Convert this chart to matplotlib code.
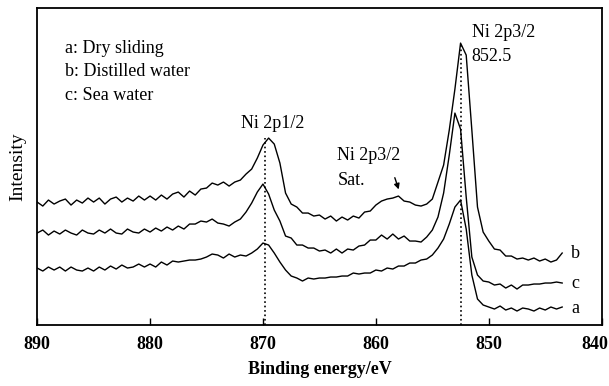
import numpy as np
import matplotlib
matplotlib.use('Agg')
import matplotlib.pyplot as plt
from matplotlib.transforms import ScaledTranslation

plt.rcParams['font.family'] = ['Liberation Serif', 'DejaVu Serif']

# binding energy grid, 890 -> 843.5 eV in 0.5 eV steps
energy = np.arange(890.0, 843.4, -0.5)

# intensities (arbitrary units)
dist_water = [
    123, 119, 125, 121, 124, 126, 120, 125, 122, 127,
    123, 127, 121, 126, 128, 123, 127, 124, 129, 125,
    129, 125, 130, 126, 131, 133, 128, 134, 130, 136,
    137, 142, 140, 143, 139, 143, 145, 151, 156, 167,
    180, 187, 181, 162, 132, 121, 118, 112, 112, 109,
    110, 106, 109, 104, 108, 105, 109, 107, 113, 114,
    120, 124, 126, 127, 129, 124, 123, 120, 119, 121,
    126, 143, 160, 195, 236, 282, 270, 195, 118, 93,
    84, 76, 75, 69, 69, 66, 67, 65, 67, 64,
    66, 63, 65, 72]
sea_water = [
    92, 95, 90, 94, 91, 95, 92, 90, 95, 92,
    91, 95, 92, 96, 92, 91, 96, 93, 92, 96,
    93, 97, 94, 98, 95, 99, 96, 101, 101, 104,
    103, 106, 102, 101, 99, 103, 106, 113, 122, 133,
    141, 131, 115, 104, 89, 87, 80, 80, 77, 77,
    74, 75, 72, 76, 72, 76, 75, 79, 80, 85,
    85, 90, 86, 91, 86, 89, 84, 84, 83, 88,
    95, 108, 132, 170, 212, 196, 128, 68, 50, 44,
    43, 40, 41, 37, 40, 36, 40, 40, 41, 41,
    42, 42, 43, 42]
dry_sliding = [
    57, 54, 58, 55, 58, 54, 58, 55, 54, 57,
    54, 58, 55, 59, 56, 60, 57, 58, 61, 58,
    61, 58, 63, 60, 64, 63, 64, 65, 65, 66,
    68, 71, 70, 67, 71, 68, 70, 69, 72, 76,
    82, 80, 72, 63, 55, 49, 47, 44, 47, 46,
    47, 47, 48, 48, 49, 49, 52, 51, 52, 52,
    55, 54, 57, 56, 59, 59, 62, 62, 65, 66,
    70, 77, 86, 101, 118, 125, 96, 50, 26, 20,
    18, 16, 19, 15, 17, 14, 17, 16, 14, 17,
    15, 18, 16, 18]

peak_pos = [869.8, 852.5]
peak_top = [187, 282]

fig = plt.figure(figsize=(6.09, 3.86), dpi=100)
ax = fig.add_axes([0.061, 0.158, 0.927, 0.821])

for y in [dist_water, sea_water, dry_sliding]:
    ax.plot(energy, y, color='black', lw=1.0)

ax.vlines(peak_pos, 0, peak_top, colors='black', linestyles=':', lw=1.2)

ax.set_xlim(890, 840)
ax.set_ylim(0, 317)
ax.set_xticks([890, 880, 870, 860, 850, 840])
ax.set_yticks([])
ax.tick_params(axis='x', direction='in', length=5, width=1, pad=8)
labs = ax.get_xticklabels()
for lab in labs:
    lab.set_fontsize(13)
    lab.set_fontweight('bold')
# keep the last label inside the figure
labs[-1].set_transform(labs[-1].get_transform() +
                       ScaledTranslation(-5 / 72, 0, fig.dpi_scale_trans))
for sp in ax.spines.values():
    sp.set_linewidth(1.3)

ax.set_xlabel('Binding energy/eV', fontsize=13, fontweight='bold', labelpad=6)
ax.set_ylabel('Intensity', fontsize=14, labelpad=8)

# legend-like notes
notes = ['a: Dry sliding', 'b: Distilled water', 'c: Sea water']
for i, t in enumerate(notes):
    ax.text(887.5, 277 - i * 23.5, t, fontsize=13, va='center', ha='left')

# peak labels
ax.text(869.1, 202, 'Ni 2p1/2', fontsize=13, ha='center', va='center')
ax.text(851.5, 293, 'Ni 2p3/2', fontsize=13, ha='left', va='center')
ax.text(851.5, 269, '852.5', fontsize=13, ha='left', va='center')
ax.text(863.4, 170, 'Ni 2p3/2', fontsize=13, ha='left', va='center')
ax.text(863.4, 145, 'Sat.', fontsize=13, ha='left', va='center')
ax.annotate('', xy=(857.9, 133), xytext=(858.4, 150),
            arrowprops=dict(arrowstyle='-|>', color='black', lw=1,
                            mutation_scale=8))

# curve tags
ax.text(842.3, 72, 'b', fontsize=13, ha='center', va='center')
ax.text(842.3, 42, 'c', fontsize=13, ha='center', va='center')
ax.text(842.3, 17, 'a', fontsize=13, ha='center', va='center')

fig.savefig('out.png', dpi=100)
